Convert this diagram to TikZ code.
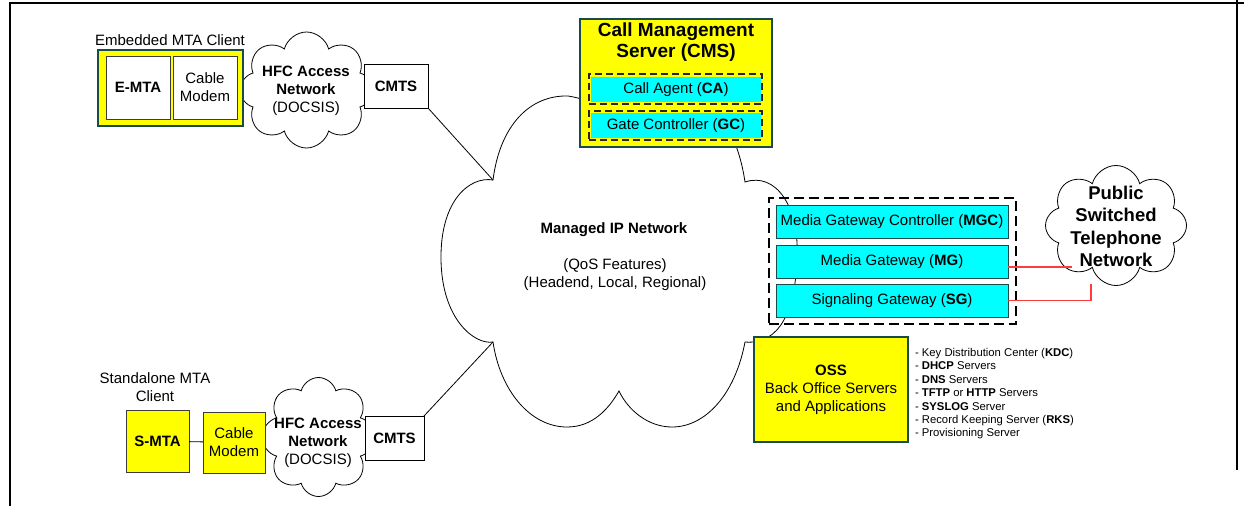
\documentclass[tikz,border=0pt]{standalone}
\usepackage{fontspec}
\setmainfont{Liberation Sans}
\usetikzlibrary{shapes.symbols}
\definecolor{bteal}{RGB}{25,75,75}
\definecolor{yfill}{RGB}{255,255,0}
\definecolor{cfill}{RGB}{0,255,255}
\definecolor{redline}{RGB}{255,60,60}
\definecolor{greyb}{RGB}{60,60,60}
\begin{document}
\begin{tikzpicture}[x=1pt,y=-1pt, font=\fontsize{15}{18}\selectfont,
  every node/.style={inner sep=0pt, outer sep=0pt},
  plainbox/.style={draw=black, line width=0.8pt, fill=white, align=center},
  wbox/.style={draw=greyb, fill=white, line width=1pt, align=center},
  sbox/.style={draw=greyb, fill=yfill, line width=1pt, align=center},
  ybox/.style={draw=bteal, fill=yfill, line width=1.8pt, align=center},
  cabox/.style={fill=cfill, align=center},
  dbox/.style={draw=black!85, dash pattern=on 7pt off 4pt, line width=1.3pt},
  gbox/.style={draw=bteal, fill=cfill, line width=1pt, align=center},
  netcloud/.style={cloud, cloud puffs=8, cloud puff arc=150, cloud ignores aspect, shape border rotate=22.5, draw=black, fill=white, line width=0.8pt},
  conn/.style={draw=black, line width=0.8pt},
  redconn/.style={draw=redline, line width=1.5pt},
  listitem/.style={anchor=base west, font=\fontsize{11.3}{13.4}\selectfont}]
\useasboundingbox (0,0) rectangle (1244,506);
% frame
\draw[line width=2.5pt] (9,3) -- (1244,3);
\draw[line width=1.5pt] (10,2) -- (10,506);
\draw[line width=1.5pt] (1237,0) -- (1237,470);
% managed IP network cloud
\draw[line width=0.8pt, fill=white] (493,180) .. controls (500,125) and (530,95) .. (568,96)
  .. controls (595,100) and (615,115) .. (630,135)
  .. controls (655,70) and (730,80) .. (745,182)
  .. controls (775,172) and (800,205) .. (797,260)
  .. controls (795,310) and (780,345) .. (745,342)
  .. controls (735,395) and (705,427) .. (672,427)
  .. controls (648,427) and (628,410) .. (619,391)
  .. controls (608,410) and (592,427) .. (567,427)
  .. controls (530,427) and (500,390) .. (493,342)
  .. controls (475,345) and (442,320) .. (441,260)
  .. controls (440,200) and (470,176) .. (493,180) -- cycle;
\coordinate (ipTL) at (493,180);
\coordinate (ipBL) at (493,342);
\node (ipt) at (614,230) {\textbf{Managed IP Network}};
\node[align=center] (ipt2) at (615,275) {(QoS Features)\\(Headend, Local, Regional)};
% HFC clouds and PSTN
\node[netcloud, minimum width=133, minimum height=116] (hfcA) at (306.5,90) {};
\node[netcloud, minimum width=113, minimum height=119] (hfcB) at (318.5,437) {};
\node[netcloud, minimum width=141, minimum height=120] (pstn) at (1116,225.5) {};
\node[align=center] (hfcAt) at (306,91) {\textbf{HFC Access}\\\textbf{Network}\\(DOCSIS)};
\node[align=center] (hfcBt) at (318,443) {\textbf{HFC Access}\\\textbf{Network}\\(DOCSIS)};
\node[font=\fontsize{18.5}{22.5}\selectfont\bfseries, align=center] (pstnt) at (1116,226.5) {Public\\Switched\\Telephone\\Network};
% embedded MTA client
\node (emtalbl) at (170,40) {Embedded MTA Client};
\node[ybox, minimum width=145, minimum height=76] (emtaclient) at (170.5,88) {};
\node[wbox, minimum width=64, minimum height=63] (emta) at (138,87.5) {\textbf{E-MTA}};
\node[wbox, minimum width=64, minimum height=63] (cmA) at (205,87.5) {Cable\\Modem};
\node[plainbox, minimum width=64, minimum height=44] (cmtsA) at (396,86) {\textbf{CMTS}};
% standalone MTA client
\node[align=center] (smtalbl) at (155,387) {Standalone MTA\\Client};
\node[sbox, minimum width=63, minimum height=62] (smta) at (157.5,441) {\textbf{S-MTA}};
\node[sbox, minimum width=62, minimum height=61] (cmB) at (234,442.5) {Cable\\Modem};
\node[plainbox, minimum width=59, minimum height=44] (cmtsB) at (394.5,438) {\textbf{CMTS}};
\draw[conn] (smta) -- (cmB);
\draw[conn] (cmtsA.south east) -- (ipTL);
\draw[conn] (cmtsB.north east) -- (ipBL);
% CMS
\node[ybox, minimum width=192, minimum height=128] (cms) at (676,83) {};
\node[font=\fontsize{19}{21}\selectfont\bfseries, align=center] (cmst) at (676,42.5) {Call Management\\Server (CMS)};
\node[cabox, minimum width=170, minimum height=25] (ca) at (676,89.5) {Call Agent (\textbf{CA})};
\node[dbox, minimum width=173, minimum height=30] (caf) at (675.5,89) {};
\node[cabox, minimum width=170, minimum height=25] (gc) at (676,125.5) {Gate Controller (\textbf{GC})};
\node[dbox, minimum width=173, minimum height=29] (gcf) at (675.5,125.5) {};
% gateways
\node[draw=black, line width=2.2pt, dash pattern=on 10pt off 5pt, minimum width=247, minimum height=126] (gwgrp) at (892.5,261) {};
\node[gbox, minimum width=232, minimum height=33] (mgc) at (892,221.5) {Media Gateway Controller (\textbf{MGC})};
\node[gbox, minimum width=232, minimum height=33] (mg) at (892,261.5) {Media Gateway (\textbf{MG})};
\node[gbox, minimum width=232, minimum height=33] (sg) at (892,300.5) {Signaling Gateway (\textbf{SG})};
\coordinate (pA) at (1072,267);
\coordinate (pB) at (1091,284);
\draw[redconn] (mg.east |- pA) -- (pA);
\draw[redconn] (sg.east) -| (pB);
% OSS
\node[ybox, minimum width=154, minimum height=105] (oss) at (831,389.5) {\textbf{OSS}\\Back Office Servers\\and Applications};
\foreach \t [count=\i] in {{- Key Distribution Center (\textbf{KDC})},{- \textbf{DHCP} Servers},{- \textbf{DNS} Servers},{- \textbf{TFTP} or \textbf{HTTP} Servers},{- \textbf{SYSLOG} Server},{- Record Keeping Server (\textbf{RKS})},{- Provisioning Server}}
  \node[listitem] (li\i) at (915,{356.5+13.4*(\i-1)}) {\t};
\end{tikzpicture}
\end{document}
